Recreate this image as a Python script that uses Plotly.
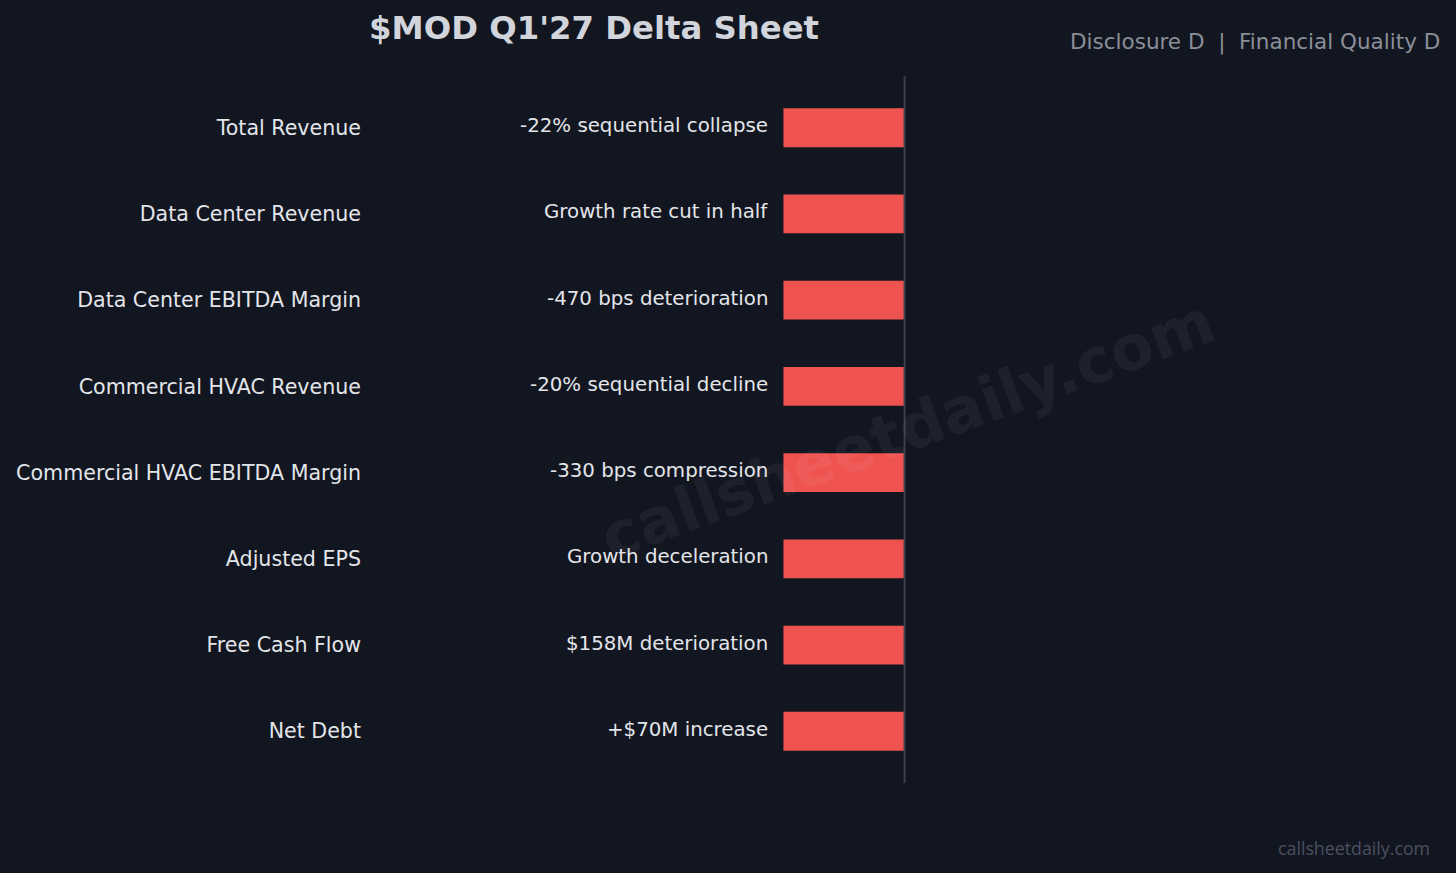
import plotly.graph_objects as go

# chart data
metrics = ['Total Revenue', 'Data Center Revenue', 'Data Center EBITDA Margin',
           'Commercial HVAC Revenue', 'Commercial HVAC EBITDA Margin',
           'Adjusted EPS', 'Free Cash Flow', 'Net Debt']
direction = [-1, -1, -1, -1, -1, -1, -1, -1]
notes = ['-22% sequential collapse', 'Growth rate cut in half', '-470 bps deterioration',
         '-20% sequential decline', '-330 bps compression', 'Growth deceleration',
         '$158M deterioration', '+$70M increase']

title_text = "$MOD Q1'27 Delta Sheet"
grades_text = 'Disclosure D  |  Financial Quality D'
site = 'callsheetdaily.com'

bg = '#121620'
label_col = '#e3e5ea'
font = 'DejaVu Sans'

fig = go.Figure()
fig.add_trace(go.Bar(
    x=direction,
    y=metrics,
    orientation='h',
    width=0.45,
    marker=dict(color='#ef5350', line=dict(width=0)),
    hoverinfo='skip',
))

# watermark (semi transparent so it only tints what is under it)
fig.add_annotation(x=0.5, y=0.5, xref='paper', yref='paper', text='<b>' + site + '</b>',
                   showarrow=False, textangle=-20,
                   font=dict(family=font, size=62, color='rgba(255,255,255,0.05)'))

# note text sits just left of each bar
for m, v, t in zip(metrics, direction, notes):
    fig.add_annotation(x=v, y=m, text=t, xanchor='right', xshift=-13, yshift=2,
                       showarrow=False, font=dict(family=font, size=19.8, color=label_col))

# zero line
fig.add_shape(type='line', x0=0, x1=0, y0=0, y1=1, xref='x', yref='paper',
              line=dict(color='#3a3f4b', width=2))

# subtitle and site tag
fig.add_annotation(x=1, y=1, xref='paper', yref='paper', xanchor='right', yanchor='middle',
                   xshift=2, yshift=34, text=grades_text, showarrow=False,
                   font=dict(family=font, size=21.5, color='#8b8f99'))
fig.add_annotation(x=1, y=0, xref='paper', yref='paper', xanchor='right', yanchor='middle',
                   xshift=-8, yshift=-65, text=site, showarrow=False,
                   font=dict(family='Liberation Sans Narrow, Open Sans', size=17.8, color='#4b5060'))

fig.update_layout(
    title=dict(text='<b>' + title_text + '</b>', x=0.408, xanchor='center', y=0.968, yanchor='middle',
               font=dict(family=font, size=32.3, color='#d1d5db')),
    width=1456, height=873,
    paper_bgcolor=bg, plot_bgcolor=bg,
    margin=dict(l=374, r=16, t=76, b=90),
    showlegend=False,
    xaxis=dict(range=[-4.38, 4.42], visible=False, fixedrange=True),
    yaxis=dict(autorange=False, range=[7.6, -0.6], showgrid=False, zeroline=False,
               ticks='', showline=False, ticklabelstandoff=12,
               tickfont=dict(family=font, size=20.6, color=label_col)),
)

fig.write_html('out.html', config={'displayModeBar': False},
               post_script="document.body.style.margin='0';")
